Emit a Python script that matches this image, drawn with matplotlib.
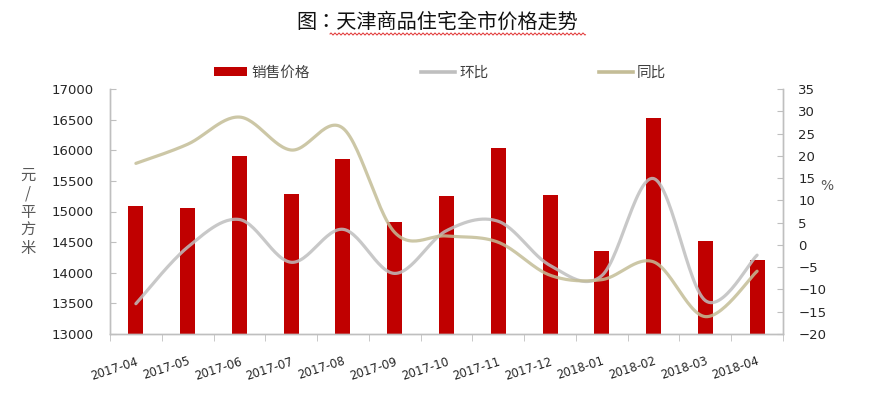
import numpy as np
import matplotlib
matplotlib.use("Agg")
import matplotlib.pyplot as plt
from matplotlib.lines import Line2D
from matplotlib.patches import Patch

plt.rcParams['font.family'] = ['DejaVu Sans', 'Noto Sans CJK SC']

categories = ['2017-04', '2017-05', '2017-06', '2017-07', '2017-08', '2017-09', '2017-10',
              '2017-11', '2017-12', '2018-01', '2018-02', '2018-03', '2018-04']
price = [15090, 15050, 15910, 15285, 15855, 14825, 15250, 16035, 15265, 14355, 16520, 14515, 14215]
mom = [-13.2, -0.5, 5.7, -3.9, 3.5, -6.4, 3.2, 5.3, -4.6, -6.9, 14.9, -12.5, -2.3]
yoy = [18.3, 22.6, 28.7, 21.3, 26.2, 2.8, 2.0, 0.6, -6.8, -7.8, -3.8, -16.1, -5.9]

W, H = 871, 396
fig = plt.figure(figsize=(W / 100, H / 100), dpi=100)
ax = fig.add_axes([110 / W, 62 / H, 673 / W, 245 / H])
ax2 = ax.twinx()

x = np.arange(len(categories))
ax.bar(x, price, width=0.29, color='#C00000', zorder=2)
ax.set_ylim(13000, 17000)
ax.set_yticks(np.arange(13000, 17001, 500))
ax.set_xlim(-0.5, len(categories) - 0.5)

ax2.set_ylim(-20, 35)
ax2.set_yticks(np.arange(-20, 36, 5))


def smooth(xs, ys, n=30):
    # Excel-like smoothed line: cubic Bezier segments with Catmull-Rom control points
    xs = np.asarray(xs, float)
    ys = np.asarray(ys, float)
    P = np.column_stack([xs, ys])
    out = [P[0]]
    for i in range(len(P) - 1):
        p0 = P[i - 1] if i > 0 else P[i]
        p1 = P[i]
        p2 = P[i + 1]
        p3 = P[i + 2] if i + 2 < len(P) else P[i + 1]
        c1 = p1 + (p2 - p0) / 6.0
        c2 = p2 - (p3 - p1) / 6.0
        t = np.linspace(0, 1, n)[1:, None]
        seg = ((1 - t) ** 3) * p1 + 3 * ((1 - t) ** 2) * t * c1 + 3 * (1 - t) * t ** 2 * c2 + t ** 3 * p2
        out.extend(seg)
    out = np.array(out)
    return out[:, 0], out[:, 1]


# smoothing computed in display-proportional space; scale x to y-units
sx = 245 / 55 / (673 / 13)
xm, ym = smooth(x / sx, mom)
xy_, yy_ = smooth(x / sx, yoy)
ax.set_zorder(1)
ax2.set_zorder(2)
ax.patch.set_visible(True)
ax2.patch.set_visible(False)
ax2.plot(xm * sx, ym, color='#BFBFBF', lw=2.3, alpha=0.85, solid_capstyle='round')
ax2.plot(xy_ * sx, yy_, color='#C4BD97', lw=2.3, alpha=0.85, solid_capstyle='round')

spine_c = '#BFBFBF'
for a in (ax, ax2):
    a.spines['top'].set_visible(False)
    for s in ('left', 'right', 'bottom'):
        a.spines[s].set_color(spine_c)
        a.spines[s].set_linewidth(1.0)

ax.tick_params(axis='y', direction='in', length=4, color=spine_c, labelsize=9.5,
               labelcolor='#262626', pad=12)
ax2.tick_params(axis='y', direction='in', length=4, color=spine_c, labelsize=9.5,
                labelcolor='#262626', pad=11)
for lab in ax2.get_yticklabels():
    lab.set_ha('left')

ax.set_xticks(x)
ax.set_xticklabels(categories, rotation=18, ha='right', rotation_mode='anchor',
                   fontsize=8.5, color='#262626')
ax.tick_params(axis='x', which='major', length=0, pad=15)
ax.set_xticks(np.arange(-0.5, len(categories)), minor=True)
ax.tick_params(axis='x', which='minor', length=5, color=spine_c, direction='out')

# axis labels
fig.text(28 / W, 1 - 212 / H, '元\n/\n平\n方\n米', ha='center', va='center', fontsize=11,
         color='#595959', family=['Noto Sans CJK SC', 'DejaVu Sans'], linespacing=1.1)
fig.text(827 / W, 1 - 186 / H, '%', ha='center', va='center', fontsize=10, color='#595959')

# title
fig.text(437 / W, 1 - 22 / H, '图：天津商品住宅全市价格走势', ha='center', va='center',
         fontsize=14.5, color='#111111', family=['Noto Sans CJK TC', 'DejaVu Sans'])
wx = np.arange(330, 586, 0.5)
wy = 34 + 1.0 * np.sin(wx * 2 * np.pi / 4.0)
fig.add_artist(Line2D(wx / W, 1 - wy / H, transform=fig.transFigure, color='#E03030', lw=0.7))

# legend
handles = [Patch(facecolor='#C00000', edgecolor='none'),
           Line2D([], [], color='#BFBFBF', lw=2.6),
           Line2D([], [], color='#C4BD97', lw=2.6)]
leg = fig.legend(handles, ['销售价格', '环比', '同比'], loc='center',
                 bbox_to_anchor=(440 / W, 1 - 73 / H), ncol=3, frameon=False,
                 handlelength=2.3, handleheight=0.6, handletextpad=0.3, columnspacing=7.6,
                 prop={'family': ['Noto Sans CJK SC', 'DejaVu Sans'], 'size': 10.5})
for t in leg.get_texts():
    t.set_color('#404040')

fig.savefig('out.png', dpi=100)
